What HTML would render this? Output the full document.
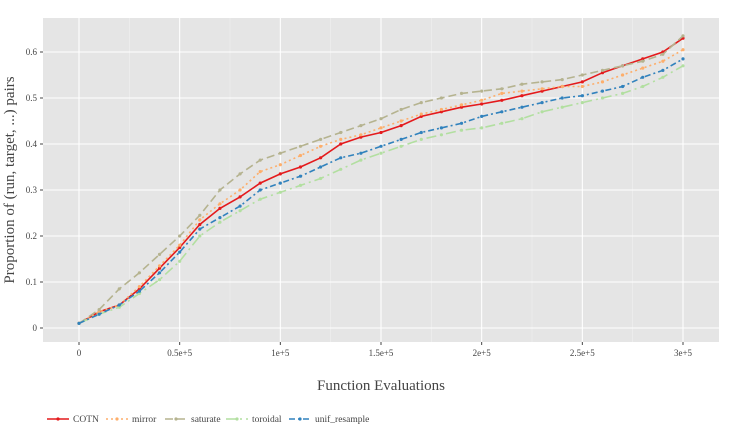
<!DOCTYPE html>
<html><head><meta charset="utf-8"><style>
body{margin:0;background:#fff}
svg text{font-family:"Liberation Serif",serif;fill:#444}
</style></head><body>
<svg id="c" width="730" height="440" xmlns="http://www.w3.org/2000/svg">
<rect x="43" y="18" width="676" height="324" fill="#e5e5e5"/>
<g id="grid"></g><g id="series"></g><g id="axes"></g>
<text x="14" y="180" font-size="15" text-anchor="middle" transform="rotate(-90 14 180)">Proportion of (run, target, ...) pairs</text>
<text x="381" y="390" font-size="15" text-anchor="middle">Function Evaluations</text>
<g id="legend"></g>
</svg>
<script>
const xs=[0,1e4,2e4,3e4,4e4,5e4,6e4,7e4,8e4,9e4,1e5,1.1e5,1.2e5,1.3e5,1.4e5,1.5e5,1.6e5,1.7e5,1.8e5,1.9e5,2e5,2.1e5,2.2e5,2.3e5,2.4e5,2.5e5,2.6e5,2.7e5,2.8e5,2.9e5,3e5];
const seriesNames=["COTN","mirror","saturate","toroidal","unif_resample"];
const cotn=[0.01,0.035,0.05,0.085,0.13,0.175,0.225,0.26,0.285,0.315,0.335,0.35,0.37,0.4,0.415,0.425,0.44,0.46,0.47,0.48,0.487,0.495,0.505,0.515,0.525,0.535,0.555,0.57,0.585,0.6,0.63];
const mirror=[0.01,0.035,0.05,0.09,0.135,0.18,0.235,0.27,0.3,0.34,0.355,0.375,0.395,0.41,0.42,0.435,0.45,0.465,0.475,0.485,0.495,0.51,0.515,0.52,0.525,0.525,0.535,0.55,0.565,0.58,0.605];
const saturate=[0.01,0.04,0.085,0.12,0.16,0.2,0.245,0.3,0.335,0.365,0.38,0.395,0.41,0.425,0.44,0.455,0.475,0.49,0.5,0.51,0.515,0.52,0.53,0.535,0.54,0.55,0.56,0.57,0.58,0.595,0.635];
const toroidal=[0.01,0.03,0.045,0.075,0.105,0.145,0.2,0.23,0.255,0.28,0.295,0.31,0.325,0.345,0.365,0.38,0.395,0.41,0.42,0.43,0.435,0.445,0.455,0.47,0.48,0.49,0.5,0.51,0.525,0.545,0.57];
const unif=[0.01,0.03,0.05,0.08,0.12,0.165,0.215,0.24,0.265,0.3,0.315,0.33,0.35,0.37,0.38,0.395,0.41,0.425,0.435,0.445,0.46,0.47,0.48,0.49,0.5,0.505,0.515,0.525,0.545,0.56,0.585];
const xTicks=[0,5e4,1e5,1.5e5,2e5,2.5e5,3e5];
const xTickLabels=["0","0.5e+5","1e+5","1.5e+5","2e+5","2.5e+5","3e+5"];
const yTicks=[0,0.1,0.2,0.3,0.4,0.5,0.6];
const yTickLabels=["0","0.1","0.2","0.3","0.4","0.5","0.6"];
const X=v=>79+v*(604/3e5), Y=v=>328-v*460;
const NS="http://www.w3.org/2000/svg";
function mk(t,a,p){const e=document.createElementNS(NS,t);for(const k in a)e.setAttribute(k,a[k]);p.appendChild(e);return e;}
const grid=document.getElementById('grid'),axes=document.getElementById('axes');
for(let i=0;i<xTicks.length-1;i++){const l=mk('line',{x1:X((xTicks[i]+xTicks[i+1])/2),x2:X((xTicks[i]+xTicks[i+1])/2),y1:18,y2:342,stroke:'#f2f2f2','stroke-width':0.5},grid);

}
xTicks.forEach((t,i)=>{const l=mk('line',{x1:X(t),x2:X(t),y1:18,y2:342,stroke:'#fff','stroke-width':1.1},grid);


const tx=mk('text',{x:X(t),y:356,'font-size':9,'text-anchor':'middle'},axes);tx.textContent=xTickLabels[i];


mk('line',{x1:X(t),x2:X(t),y1:342,y2:345,stroke:'#444'},axes);});
yTicks.forEach((t,i)=>{const l=mk('line',{x1:43,x2:719,y1:Y(t),y2:Y(t),stroke:'#fff','stroke-width':1.1},grid);


const tx=mk('text',{x:37,y:Y(t)+3,'font-size':9,'text-anchor':'end'},axes);tx.textContent=yTickLabels[i];


mk('line',{x1:40,x2:43,y1:Y(t),y2:Y(t),stroke:'#444'},axes);});
const data=[cotn,mirror,saturate,toroidal,unif];
const colors=["#e41a1c","#fdae6b","#b5b38f","#b2dfa0","#3182bd"];
const dashes=["","2,3","8,4","10,4,2,4","6,3,2,3"];
const sg=document.getElementById('series');
data.forEach((d,s)=>{const g=mk('g',{},sg);


mk('polyline',{points:d.map((v,i)=>X(xs[i])+','+Y(v)).join(' '),fill:'none',stroke:colors[s],'stroke-width':1.6,'stroke-dasharray':dashes[s]},g);
d.forEach((v,i)=>{const c=mk('circle',{cx:X(xs[i]),cy:Y(v),r:1.6,fill:colors[s]},g);

});});
const lg=document.getElementById('legend');
const lx=[47,106,165,226,289];
seriesNames.forEach((n,s)=>{const g=mk('g',{},lg);


mk('line',{x1:lx[s],x2:lx[s]+22,y1:419,y2:419,stroke:colors[s],'stroke-width':1.6,'stroke-dasharray':dashes[s]},g);
mk('circle',{cx:lx[s]+11,cy:419,r:1.6,fill:colors[s]},g);
const t=mk('text',{x:lx[s]+26,y:422,'font-size':9.5},g);t.textContent=n;});
</script>
</body></html>
